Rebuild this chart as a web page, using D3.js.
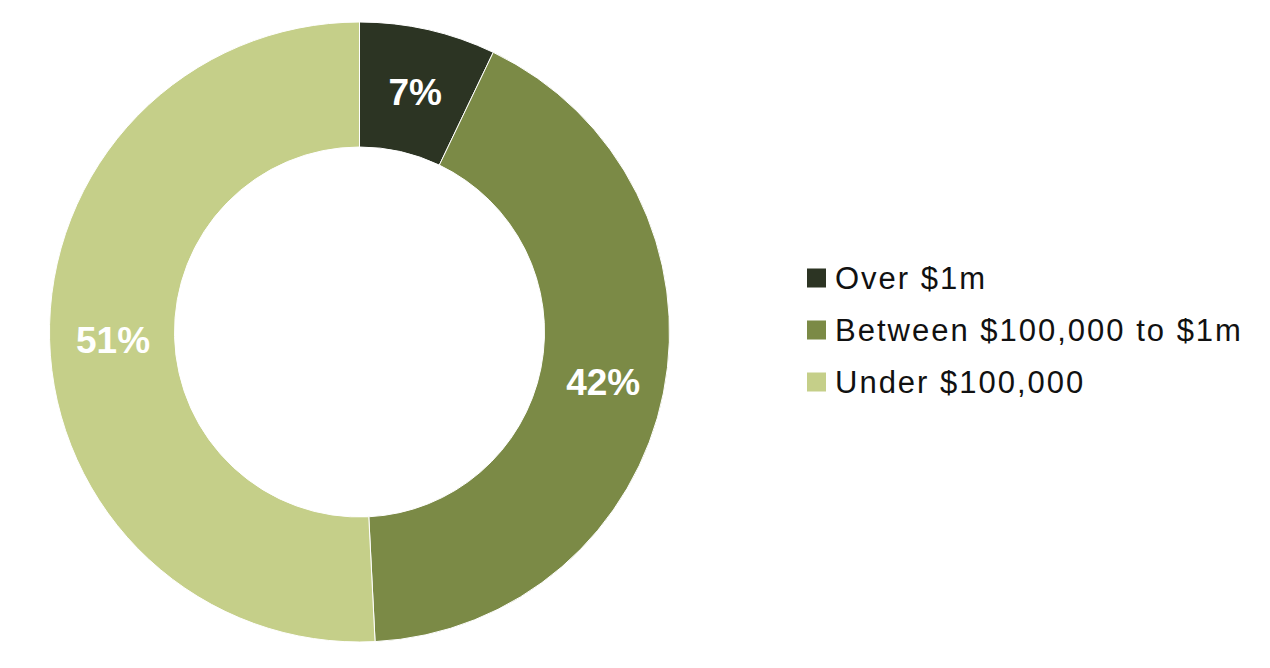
<!DOCTYPE html>
<html>
<head>
<meta charset="utf-8">
<script src="https://cdn.jsdelivr.net/npm/d3@7"></script>
<style>
  html, body { margin: 0; padding: 0; background: #ffffff; }
  svg { display: block; }
</style>
</head>
<body>
<svg id="chart" width="1270" height="668"></svg>
<script>
// Categories and values
const categories = ["Over $1m", "Between $100,000 to $1m", "Under $100,000"];
// Shares in percent (labels show them rounded)
const values = [7.1, 42.1, 50.8];
const colors = ["#2c3423", "#7b8a46", "#c5cf89"];

const svg = d3.select("#chart");
const cx = 359.5, cy = 332;
const outerR = 310, innerR = 185;

const g = svg.append("g").attr("transform", `translate(${cx},${cy})`);

const pie = d3.pie().sort(null).value(d => d);
const arc = d3.arc().innerRadius(innerR).outerRadius(outerR);
const labelArc = d3.arc().innerRadius((innerR + outerR) / 2).outerRadius((innerR + outerR) / 2);
const arcs = pie(values);

g.selectAll("path.slice")
  .data(arcs)
  .join("path")
  .attr("class", "slice")
  .attr("d", arc)
  .attr("fill", (d, i) => colors[i])
  .attr("stroke", "#ffffff")
  .attr("stroke-width", 1);

g.selectAll("text.lbl")
  .data(arcs)
  .join("text")
  .attr("class", "lbl")
  .attr("transform", d => {
    const [x, y] = labelArc.centroid(d);
    return `translate(${x + 1},${y + 2})`;
  })
  .attr("text-anchor", "middle")
  .attr("dominant-baseline", "central")
  .attr("font-family", "Liberation Sans, Arial, sans-serif")
  .attr("font-weight", "bold")
  .attr("font-size", 37)
  .attr("fill", "#ffffff")
  .text(d => Math.round(d.data) + "%");

// Legend
const legendY = d3.scalePoint().domain(categories).range([278, 382]);
const legend = svg.append("g");
const items = legend.selectAll("g.item")
  .data(categories)
  .join("g")
  .attr("class", "item")
  .attr("transform", d => `translate(807,${legendY(d)})`);

items.append("rect")
  .attr("x", 0)
  .attr("y", -9.5)
  .attr("width", 19)
  .attr("height", 19)
  .attr("fill", (d, i) => colors[i]);

items.append("text")
  .attr("x", 28)
  .attr("y", 11)
  .attr("font-family", "Liberation Sans, Arial, sans-serif")
  .attr("font-size", 31)
  .attr("letter-spacing", 2)
  .attr("fill", "#111111")
  .text(d => d);
</script>
</body>
</html>
